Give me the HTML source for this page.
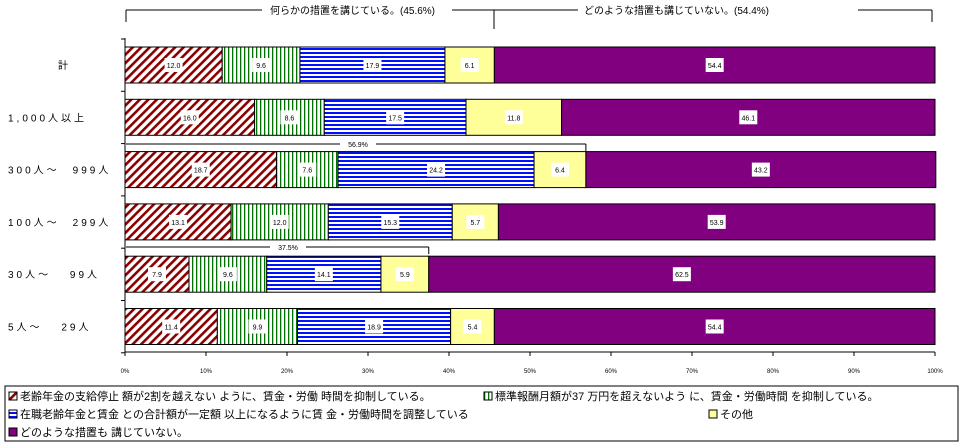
<!DOCTYPE html>
<html><head><meta charset="utf-8"><style>
body{margin:0;background:#fff}
svg{display:block;font-family:"Liberation Sans","Noto Sans CJK JP",sans-serif}
</style></head><body>
<svg id="c" width="962" height="444">
<defs>
<pattern id="p0" width="6" height="6" patternUnits="userSpaceOnUse" patternTransform="rotate(45)"><rect width="6" height="6" fill="#fff"/><rect width="2.6" height="6" fill="#8b0000"/></pattern>
<pattern id="p1" width="4" height="4" patternUnits="userSpaceOnUse"><rect width="4" height="4" fill="#fff"/><rect width="1.3" height="4" fill="#007000"/></pattern>
<pattern id="p2" width="4" height="4" patternUnits="userSpaceOnUse"><rect width="4" height="4" fill="#fff"/><rect width="4" height="2" fill="#0010ff"/></pattern>
</defs>
<g id="plot"></g>
</svg>
<script>
const categories=["計","1,000人以上","300人～　999人","100人～　299人","30人～　 99人","5人～　 29人"];
const s0=[12.0,16.0,18.7,13.1,7.9,11.4];
const s1=[9.6,8.6,7.6,12.0,9.6,9.9];
const s2=[17.9,17.5,24.2,15.3,14.1,18.9];
const s3=[6.1,11.8,6.4,5.7,5.9,5.4];
const s4=[54.4,46.1,43.2,53.9,62.5,54.4];
const ticks=[0,10,20,30,40,50,60,70,80,90,100];
const legendLabels=["老齢年金の支給停止 額が2割を越えない ように、賃金・労働 時間を抑制している。","標準報酬月額が37 万円を超えないよう に、賃金・労働時間 を抑制している。","在職老齢年金と賃金 との合計額が一定額 以上になるように賃 金・労働時間を調整している","その他","どのような措置も 講じていない。"];
const series=[s0,s1,s2,s3,s4];
const fills=["url(#p0)","url(#p1)","url(#p2)","#ffff99","#800080"];
const NS="http://www.w3.org/2000/svg";
const g=document.getElementById('plot');
const x=v=>125+v*8.1;
const yRow=i=>47+i*52.3;
const BH=36;
function mk(t,a,p){const e=document.createElementNS(NS,t);for(const k in a)e.setAttribute(k,a[k]);(p||g).appendChild(e);return e;}
let e=mk('line',{x1:125,y1:38,x2:125,y2:352,stroke:'#000'});

e=mk('line',{x1:125,y1:352,x2:935,y2:352,stroke:'#000'});

ticks.forEach(t=>{
 mk('line',{x1:x(t),y1:352,x2:x(t),y2:356,stroke:'#000'});
 const tx=mk('text',{x:x(t),y:373,'font-size':6,'text-anchor':'middle'});tx.textContent=t+'%';
 
});
for(let i=0;i<=categories.length;i++){mk('line',{x1:121,y1:yRow(i)-8,x2:125,y2:yRow(i)-8,stroke:'#000'});}
categories.forEach((c,i)=>{
 const y=yRow(i);
 const lb=mk('text',{x:i==0?58:8,y:y+BH/2+4,'font-size':10,'letter-spacing':i==0?0:3});lb.textContent=c;
 
 let acc=0;
 series.forEach((s,k)=>{
  const r=mk('rect',{x:x(acc),y:y,width:x(acc+s[i])-x(acc),height:BH,fill:fills[k],stroke:'#000','stroke-width':1});
  
  const cx=(x(acc)+x(acc+s[i]))/2;
  mk('rect',{x:cx-9,y:y+BH/2-7,width:18,height:14,fill:'#fff'});
  const t=mk('text',{x:cx,y:y+BH/2+3,'font-size':7,'text-anchor':'middle'});t.textContent=s[i].toFixed(1);
  
  acc+=s[i];
 });
});
function bracket(yb,to,label,lx){
 mk('line',{x1:126,y1:yb,x2:x(to),y2:yb,stroke:'#000'});
 mk('line',{x1:x(to),y1:yb,x2:x(to),y2:yb+7,stroke:'#000'});
 mk('rect',{x:lx-18,y:yb-5,width:36,height:10,fill:'#fff'});
 const t=mk('text',{x:lx,y:yb+3,'font-size':7,'text-anchor':'middle'});t.textContent=label;
 
}
bracket(144,s0[2]+s1[2]+s2[2]+s3[2],'56.9%',358);
bracket(247,s0[4]+s1[4]+s2[4]+s3[4],'37.5%',288);
mk('line',{x1:126,y1:10,x2:932,y2:10,stroke:'#000'});
mk('line',{x1:126,y1:10,x2:126,y2:22,stroke:'#000'});
mk('line',{x1:932,y1:10,x2:932,y2:22,stroke:'#000'});
mk('line',{x1:494,y1:10,x2:494,y2:29,stroke:'#000'});
mk('rect',{x:262,y:2,width:190,height:16,fill:'#fff'});
mk('rect',{x:578,y:2,width:280,height:16,fill:'#fff'});
e=mk('text',{x:270,y:14,'font-size':10});e.textContent='何らかの措置を講じている。(45.6%)';

e=mk('text',{x:584,y:14,'font-size':10});e.textContent='どのような措置も講じていない。(54.4%)';

e=mk('rect',{x:5,y:386,width:953,height:55,fill:'#fff',stroke:'#000'});

const lpos=[[9,396],[484,396],[9,414],[709,414],[9,432]];
legendLabels.forEach((l,k)=>{
 const [lx,ly]=lpos[k];
 mk('rect',{x:lx,y:ly-4,width:8,height:8,fill:fills[k],stroke:'#000'});
 const t=mk('text',{x:lx+11,y:ly+4,'font-size':11});t.textContent=l;
 
});
</script>
</body></html>
